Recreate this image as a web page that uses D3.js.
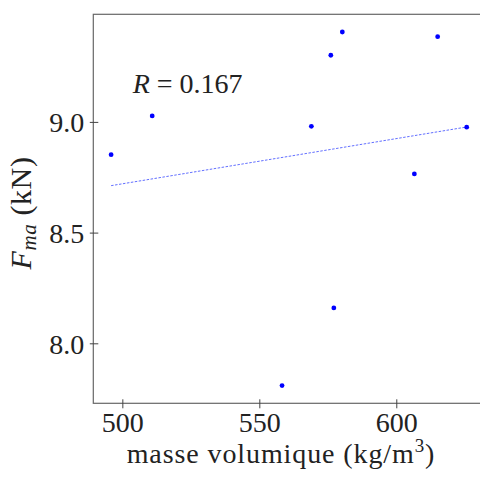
<!DOCTYPE html>
<html><head><meta charset="utf-8">
<script src="https://cdn.jsdelivr.net/npm/d3@7"></script>
<style>body{margin:0;background:#fff}svg{display:block}text{font-family:"Liberation Serif","DejaVu Serif",serif;fill:#222}</style>
</head><body><svg id="c" width="480" height="480"></svg>
<script>
const density = [495.9, 510.9, 569.0, 576.1, 580.3, 615.1, 625.7, 606.6, 577.2, 558.3];
const force   = [8.852, 9.027, 8.980, 9.301, 9.406, 9.385, 8.976, 8.765, 8.160, 7.809];
const fitX = [495.9, 625.7];
const fitY = [8.712, 8.977];
const xTicks = [500, 550, 600];
const yTicks = [8.0, 8.5, 9.0];

const svg = d3.select("#c");
const L = 93.3, R = 484.5, T = 14.3, B = 403.3;
const x = d3.scaleLinear().domain([489.4, 632.2]).range([L, R]);
const y = d3.scaleLinear().domain([7.729, 9.486]).range([B, T]);

// frame
svg.append("rect").attr("x", L).attr("y", T).attr("width", R - L).attr("height", B - T)
  .attr("fill", "none").attr("stroke", "#666").attr("stroke-width", 1.2);

// x axis
const xa = svg.append("g").attr("transform", `translate(0,${B})`)
  .call(d3.axisBottom(x).tickValues(xTicks).tickSizeInner(5).tickSizeOuter(0).tickFormat(d3.format("d")));
xa.select(".domain").remove();
xa.selectAll(".tick line").attr("y1", -4).attr("y2", 5).attr("stroke", "#444");
xa.selectAll(".tick text").attr("font-size", 28).attr("fill", "#222").attr("y", 29).attr("dy", 0)
  .attr("font-family", "Liberation Serif");

// y axis
const ya = svg.append("g").attr("transform", `translate(${L},0)`)
  .call(d3.axisLeft(y).tickValues(yTicks).tickSizeInner(4).tickSizeOuter(0).tickFormat(d3.format(".1f")));
ya.select(".domain").remove();
ya.selectAll(".tick line").attr("x1", -3.5).attr("x2", 5).attr("stroke", "#444");
ya.selectAll(".tick text").attr("font-size", 28).attr("fill", "#222").attr("x", -9).attr("dy", "0.35em")
  .attr("font-family", "Liberation Serif");

// trend line
svg.append("line")
  .attr("x1", x(fitX[0])).attr("y1", y(fitY[0])).attr("x2", x(fitX[1])).attr("y2", y(fitY[1]))
  .attr("stroke", "#3344ff").attr("stroke-width", 0.9).attr("stroke-dasharray", "2.5,1.5").attr("opacity", 0.85);

// points
svg.append("g").selectAll("circle").data(density.map((d, i) => [d, force[i]])).join("circle")
  .attr("cx", d => x(d[0])).attr("cy", d => y(d[1])).attr("r", 2.4).attr("fill", "#0000ff");

// R label
const rt = svg.append("text").attr("x", 132.7).attr("y", 93.3).attr("font-size", 28);
rt.append("tspan").attr("font-style", "italic").text("R");
rt.append("tspan").text(" = 0.167");

// x label
const xl = svg.append("text").attr("x", 281).attr("y", 463).attr("text-anchor", "middle")
  .attr("font-size", 28).attr("letter-spacing", 0.9);
xl.append("tspan").text("masse volumique (kg/m");
xl.append("tspan").attr("font-size", 19).attr("dy", -11).text("3");
xl.append("tspan").attr("dy", 11).text(")");

// y label
const yl = svg.append("text").attr("transform", "translate(31,213) rotate(-90)").attr("text-anchor", "middle")
  .attr("font-size", 30).attr("letter-spacing", 0.6);
yl.append("tspan").attr("font-style", "italic").text("F");
yl.append("tspan").attr("font-style", "italic").attr("font-size", 21).attr("dy", 5).text("ma");
yl.append("tspan").attr("dy", -5).text(" (kN)");
</script></body></html>
